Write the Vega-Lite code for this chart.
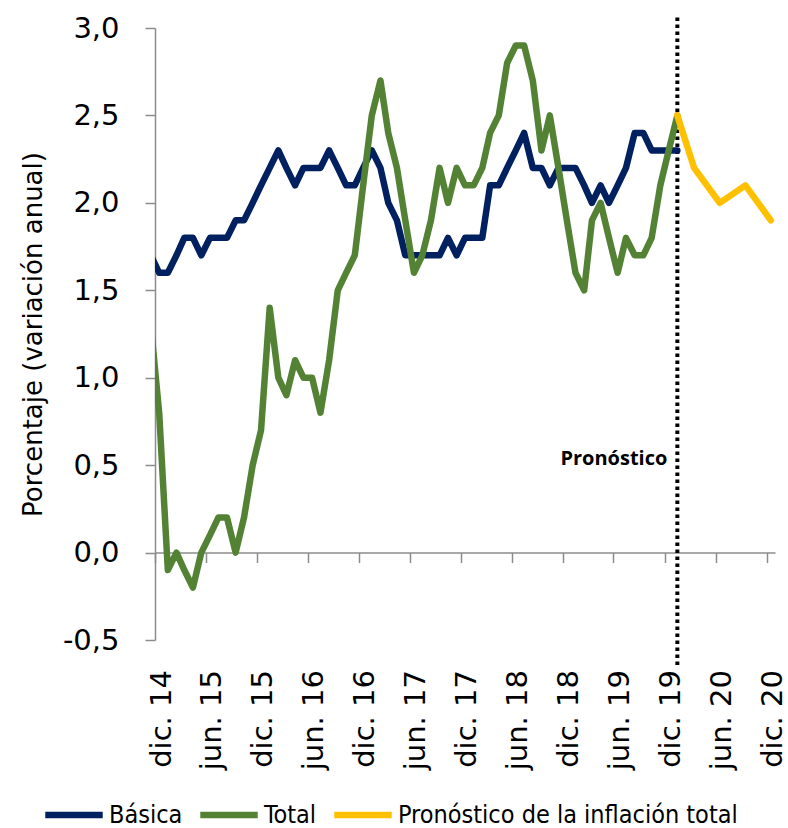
{
  "$schema": "https://vega.github.io/schema/vega-lite/v6.json",
  "width": 620,
  "height": 612,
  "autosize": {"type": "none"},
  "padding": {"left": 155, "top": 28, "right": 13, "bottom": 188},
  "background": "#ffffff",
  "config": {"view": {"stroke": null}, "font": "DejaVu Sans"},
  "datasets": {
    "series": [
      {"fecha": "2014-11-01", "serie": "Básica", "valor": 1.7},
      {"fecha": "2014-12-01", "serie": "Básica", "valor": 1.6},
      {"fecha": "2015-01-01", "serie": "Básica", "valor": 1.6},
      {"fecha": "2015-02-01", "serie": "Básica", "valor": 1.7},
      {"fecha": "2015-03-01", "serie": "Básica", "valor": 1.8},
      {"fecha": "2015-04-01", "serie": "Básica", "valor": 1.8},
      {"fecha": "2015-05-01", "serie": "Básica", "valor": 1.7},
      {"fecha": "2015-06-01", "serie": "Básica", "valor": 1.8},
      {"fecha": "2015-07-01", "serie": "Básica", "valor": 1.8},
      {"fecha": "2015-08-01", "serie": "Básica", "valor": 1.8},
      {"fecha": "2015-09-01", "serie": "Básica", "valor": 1.9},
      {"fecha": "2015-10-01", "serie": "Básica", "valor": 1.9},
      {"fecha": "2015-11-01", "serie": "Básica", "valor": 2.0},
      {"fecha": "2015-12-01", "serie": "Básica", "valor": 2.1},
      {"fecha": "2016-01-01", "serie": "Básica", "valor": 2.2},
      {"fecha": "2016-02-01", "serie": "Básica", "valor": 2.3},
      {"fecha": "2016-03-01", "serie": "Básica", "valor": 2.2},
      {"fecha": "2016-04-01", "serie": "Básica", "valor": 2.1},
      {"fecha": "2016-05-01", "serie": "Básica", "valor": 2.2},
      {"fecha": "2016-06-01", "serie": "Básica", "valor": 2.2},
      {"fecha": "2016-07-01", "serie": "Básica", "valor": 2.2},
      {"fecha": "2016-08-01", "serie": "Básica", "valor": 2.3},
      {"fecha": "2016-09-01", "serie": "Básica", "valor": 2.2},
      {"fecha": "2016-10-01", "serie": "Básica", "valor": 2.1},
      {"fecha": "2016-11-01", "serie": "Básica", "valor": 2.1},
      {"fecha": "2016-12-01", "serie": "Básica", "valor": 2.2},
      {"fecha": "2017-01-01", "serie": "Básica", "valor": 2.3},
      {"fecha": "2017-02-01", "serie": "Básica", "valor": 2.2},
      {"fecha": "2017-03-01", "serie": "Básica", "valor": 2.0},
      {"fecha": "2017-04-01", "serie": "Básica", "valor": 1.9},
      {"fecha": "2017-05-01", "serie": "Básica", "valor": 1.7},
      {"fecha": "2017-06-01", "serie": "Básica", "valor": 1.7},
      {"fecha": "2017-07-01", "serie": "Básica", "valor": 1.7},
      {"fecha": "2017-08-01", "serie": "Básica", "valor": 1.7},
      {"fecha": "2017-09-01", "serie": "Básica", "valor": 1.7},
      {"fecha": "2017-10-01", "serie": "Básica", "valor": 1.8},
      {"fecha": "2017-11-01", "serie": "Básica", "valor": 1.7},
      {"fecha": "2017-12-01", "serie": "Básica", "valor": 1.8},
      {"fecha": "2018-01-01", "serie": "Básica", "valor": 1.8},
      {"fecha": "2018-02-01", "serie": "Básica", "valor": 1.8},
      {"fecha": "2018-03-01", "serie": "Básica", "valor": 2.1},
      {"fecha": "2018-04-01", "serie": "Básica", "valor": 2.1},
      {"fecha": "2018-05-01", "serie": "Básica", "valor": 2.2},
      {"fecha": "2018-06-01", "serie": "Básica", "valor": 2.3},
      {"fecha": "2018-07-01", "serie": "Básica", "valor": 2.4},
      {"fecha": "2018-08-01", "serie": "Básica", "valor": 2.2},
      {"fecha": "2018-09-01", "serie": "Básica", "valor": 2.2},
      {"fecha": "2018-10-01", "serie": "Básica", "valor": 2.1},
      {"fecha": "2018-11-01", "serie": "Básica", "valor": 2.2},
      {"fecha": "2018-12-01", "serie": "Básica", "valor": 2.2},
      {"fecha": "2019-01-01", "serie": "Básica", "valor": 2.2},
      {"fecha": "2019-02-01", "serie": "Básica", "valor": 2.1},
      {"fecha": "2019-03-01", "serie": "Básica", "valor": 2.0},
      {"fecha": "2019-04-01", "serie": "Básica", "valor": 2.1},
      {"fecha": "2019-05-01", "serie": "Básica", "valor": 2.0},
      {"fecha": "2019-06-01", "serie": "Básica", "valor": 2.1},
      {"fecha": "2019-07-01", "serie": "Básica", "valor": 2.2},
      {"fecha": "2019-08-01", "serie": "Básica", "valor": 2.4},
      {"fecha": "2019-09-01", "serie": "Básica", "valor": 2.4},
      {"fecha": "2019-10-01", "serie": "Básica", "valor": 2.3},
      {"fecha": "2019-11-01", "serie": "Básica", "valor": 2.3},
      {"fecha": "2019-12-01", "serie": "Básica", "valor": 2.3},
      {"fecha": "2020-01-01", "serie": "Básica", "valor": 2.3},
      {"fecha": "2014-11-01", "serie": "Total", "valor": 1.3},
      {"fecha": "2014-12-01", "serie": "Total", "valor": 0.8},
      {"fecha": "2015-01-01", "serie": "Total", "valor": -0.1},
      {"fecha": "2015-02-01", "serie": "Total", "valor": 0.0},
      {"fecha": "2015-03-01", "serie": "Total", "valor": -0.1},
      {"fecha": "2015-04-01", "serie": "Total", "valor": -0.2},
      {"fecha": "2015-05-01", "serie": "Total", "valor": 0.0},
      {"fecha": "2015-06-01", "serie": "Total", "valor": 0.1},
      {"fecha": "2015-07-01", "serie": "Total", "valor": 0.2},
      {"fecha": "2015-08-01", "serie": "Total", "valor": 0.2},
      {"fecha": "2015-09-01", "serie": "Total", "valor": 0.0},
      {"fecha": "2015-10-01", "serie": "Total", "valor": 0.2},
      {"fecha": "2015-11-01", "serie": "Total", "valor": 0.5},
      {"fecha": "2015-12-01", "serie": "Total", "valor": 0.7},
      {"fecha": "2016-01-01", "serie": "Total", "valor": 1.4},
      {"fecha": "2016-02-01", "serie": "Total", "valor": 1.0},
      {"fecha": "2016-03-01", "serie": "Total", "valor": 0.9},
      {"fecha": "2016-04-01", "serie": "Total", "valor": 1.1},
      {"fecha": "2016-05-01", "serie": "Total", "valor": 1.0},
      {"fecha": "2016-06-01", "serie": "Total", "valor": 1.0},
      {"fecha": "2016-07-01", "serie": "Total", "valor": 0.8},
      {"fecha": "2016-08-01", "serie": "Total", "valor": 1.1},
      {"fecha": "2016-09-01", "serie": "Total", "valor": 1.5},
      {"fecha": "2016-10-01", "serie": "Total", "valor": 1.6},
      {"fecha": "2016-11-01", "serie": "Total", "valor": 1.7},
      {"fecha": "2016-12-01", "serie": "Total", "valor": 2.1},
      {"fecha": "2017-01-01", "serie": "Total", "valor": 2.5},
      {"fecha": "2017-02-01", "serie": "Total", "valor": 2.7},
      {"fecha": "2017-03-01", "serie": "Total", "valor": 2.4},
      {"fecha": "2017-04-01", "serie": "Total", "valor": 2.2},
      {"fecha": "2017-05-01", "serie": "Total", "valor": 1.9},
      {"fecha": "2017-06-01", "serie": "Total", "valor": 1.6},
      {"fecha": "2017-07-01", "serie": "Total", "valor": 1.7},
      {"fecha": "2017-08-01", "serie": "Total", "valor": 1.9},
      {"fecha": "2017-09-01", "serie": "Total", "valor": 2.2},
      {"fecha": "2017-10-01", "serie": "Total", "valor": 2.0},
      {"fecha": "2017-11-01", "serie": "Total", "valor": 2.2},
      {"fecha": "2017-12-01", "serie": "Total", "valor": 2.1},
      {"fecha": "2018-01-01", "serie": "Total", "valor": 2.1},
      {"fecha": "2018-02-01", "serie": "Total", "valor": 2.2},
      {"fecha": "2018-03-01", "serie": "Total", "valor": 2.4},
      {"fecha": "2018-04-01", "serie": "Total", "valor": 2.5},
      {"fecha": "2018-05-01", "serie": "Total", "valor": 2.8},
      {"fecha": "2018-06-01", "serie": "Total", "valor": 2.9},
      {"fecha": "2018-07-01", "serie": "Total", "valor": 2.9},
      {"fecha": "2018-08-01", "serie": "Total", "valor": 2.7},
      {"fecha": "2018-09-01", "serie": "Total", "valor": 2.3},
      {"fecha": "2018-10-01", "serie": "Total", "valor": 2.5},
      {"fecha": "2018-11-01", "serie": "Total", "valor": 2.2},
      {"fecha": "2018-12-01", "serie": "Total", "valor": 1.9},
      {"fecha": "2019-01-01", "serie": "Total", "valor": 1.6},
      {"fecha": "2019-02-01", "serie": "Total", "valor": 1.5},
      {"fecha": "2019-03-01", "serie": "Total", "valor": 1.9},
      {"fecha": "2019-04-01", "serie": "Total", "valor": 2.0},
      {"fecha": "2019-05-01", "serie": "Total", "valor": 1.8},
      {"fecha": "2019-06-01", "serie": "Total", "valor": 1.6},
      {"fecha": "2019-07-01", "serie": "Total", "valor": 1.8},
      {"fecha": "2019-08-01", "serie": "Total", "valor": 1.7},
      {"fecha": "2019-09-01", "serie": "Total", "valor": 1.7},
      {"fecha": "2019-10-01", "serie": "Total", "valor": 1.8},
      {"fecha": "2019-11-01", "serie": "Total", "valor": 2.1},
      {"fecha": "2019-12-01", "serie": "Total", "valor": 2.3},
      {"fecha": "2020-01-01", "serie": "Total", "valor": 2.5},
      {"fecha": "2020-01-01", "serie": "Pronóstico de la inflación total", "valor": 2.5},
      {"fecha": "2020-03-01", "serie": "Pronóstico de la inflación total", "valor": 2.2},
      {"fecha": "2020-06-01", "serie": "Pronóstico de la inflación total", "valor": 2.0},
      {"fecha": "2020-09-01", "serie": "Pronóstico de la inflación total", "valor": 2.1},
      {"fecha": "2020-12-01", "serie": "Pronóstico de la inflación total", "valor": 1.9}
    ],
    "corte": [
      {"fecha": "2020-01-01", "texto": "Pronóstico", "valor": 0.5}
    ]
  },
  "layer": [
    {
      "data": {"name": "corte"},
      "mark": {"type": "rule", "strokeDash": [3.5, 3.5], "strokeWidth": 4, "color": "#000000"},
      "encoding": {
        "x": {"field": "fecha", "type": "temporal"},
        "y": {"datum": 3.06},
        "y2": {"datum": -0.65}
      }
    },
    {
      "data": {"name": "series"},
      "mark": {"type": "line", "strokeWidth": 6.5, "strokeCap": "round", "strokeJoin": "round", "clip": true},
      "encoding": {
        "x": {
          "field": "fecha",
          "type": "temporal",
          "scale": {
            "type": "utc",
            "domain": [
              {"year": 2014, "month": 11, "date": 16, "utc": true},
              {"year": 2020, "month": 12, "date": 16, "utc": true}
            ]
          },
          "axis": {
            "title": null,
            "grid": false,
            "offset": -87.43,
            "domainColor": "#8c8c8c",
            "domainWidth": 1.5,
            "tickColor": "#8c8c8c",
            "tickWidth": 1.5,
            "tickSize": 10,
            "values": [
              {"year": 2014, "month": 11, "date": 16, "utc": true},
              {"year": 2015, "month": 5, "date": 17, "utc": true},
              {"year": 2015, "month": 11, "date": 16, "utc": true},
              {"year": 2016, "month": 5, "date": 17, "utc": true},
              {"year": 2016, "month": 11, "date": 16, "utc": true},
              {"year": 2017, "month": 5, "date": 17, "utc": true},
              {"year": 2017, "month": 11, "date": 16, "utc": true},
              {"year": 2018, "month": 5, "date": 17, "utc": true},
              {"year": 2018, "month": 11, "date": 16, "utc": true},
              {"year": 2019, "month": 5, "date": 17, "utc": true},
              {"year": 2019, "month": 11, "date": 16, "utc": true},
              {"year": 2020, "month": 5, "date": 17, "utc": true},
              {"year": 2020, "month": 11, "date": 16, "utc": true}
            ],
            "labelExpr": "(utcmonth(datum.value) == 10 ? 'dic. ' : 'jun. ') + (utcyear(datum.value) - 2000)",
            "labelAngle": -90,
            "labelAlign": "right",
            "labelBaseline": "middle",
            "labelOffset": 6,
            "labelPadding": 107,
            "labelFont": "DejaVu Sans",
            "labelFontSize": 29,
            "labelColor": "#000000",
            "labelOverlap": false,
            "labelFlush": false,
            "labelBound": false
          }
        },
        "y": {
          "field": "valor",
          "type": "quantitative",
          "scale": {"domain": [-0.5, 3], "nice": false, "zero": false},
          "axis": {
            "title": "Porcentaje (variación anual)",
            "titleFont": "DejaVu Sans",
            "titleFontSize": 26,
            "titleFontWeight": "normal",
            "titleColor": "#000000",
            "titlePadding": 16,
            "grid": false,
            "values": [-0.5, 0, 0.5, 1, 1.5, 2, 2.5, 3],
            "labelExpr": "replace(replace(format(datum.value, '.1f'), '.', ','), '\u2212', '-')",
            "domainColor": "#8c8c8c",
            "domainWidth": 1.5,
            "tickColor": "#8c8c8c",
            "tickWidth": 1.5,
            "tickSize": 10,
            "labelPadding": 26,
            "labelFont": "DejaVu Sans",
            "labelFontSize": 29,
            "labelColor": "#000000",
            "labelFlush": false,
            "labelOverlap": false
          }
        },
        "color": {
          "field": "serie",
          "type": "nominal",
          "scale": {
            "domain": ["Básica", "Total", "Pronóstico de la inflación total"],
            "range": ["#002060", "#548235", "#ffc000"]
          },
          "legend": {
            "orient": "none",
            "legendX": -113,
            "legendY": 755,
            "direction": "horizontal",
            "title": null,
            "symbolType": "stroke",
            "symbolSize": 3300,
            "symbolStrokeWidth": 6.5,
            "labelFont": "DejaVu Sans Condensed",
            "labelFontSize": 25,
            "labelColor": "#000000",
            "labelOffset": 3,
            "labelLimit": 500,
            "columnPadding": 4,
            "padding": 0
          }
        }
      }
    },
    {
      "data": {"name": "corte"},
      "mark": {"type": "text", "align": "right", "baseline": "alphabetic", "dx": -10, "font": "Open Sans", "fontWeight": "bold", "fontSize": 20, "color": "#000000"},
      "encoding": {
        "x": {"field": "fecha", "type": "temporal"},
        "y": {"field": "valor", "type": "quantitative"},
        "text": {"field": "texto"}
      }
    }
  ]
}
